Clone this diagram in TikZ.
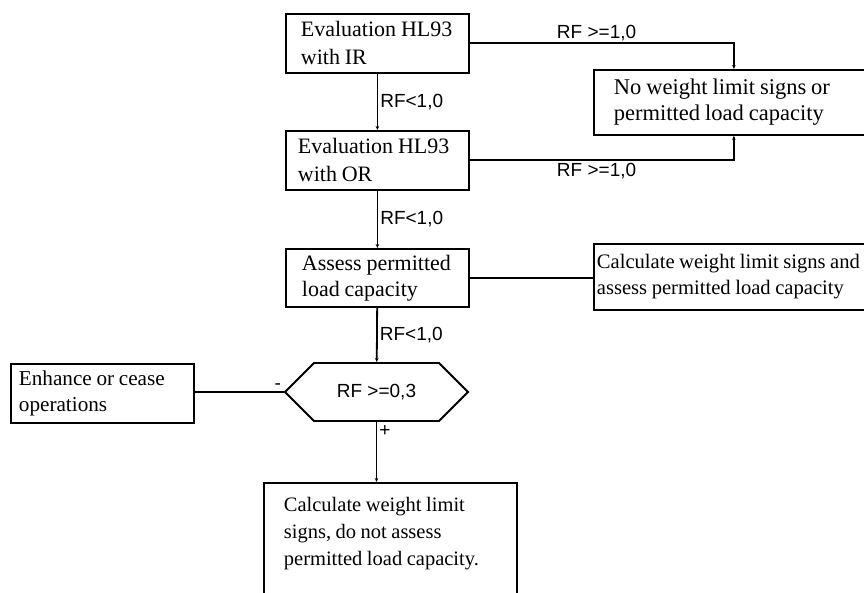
\documentclass[tikz,border=0pt]{standalone}
\usepackage{fontspec}
\setmainfont{Liberation Serif}
\setsansfont{Liberation Sans}
\usetikzlibrary{arrows.meta, shapes.symbols}

\begin{document}
\begin{tikzpicture}[x=1pt, y=-1pt, line width=1.8pt]
\tikzstyle{block} = [rectangle, draw, align=left, anchor=north west,
    inner ysep=2pt, font=\fontsize{22}{28}\selectfont,
    execute at begin node={\hyphenpenalty=10000\spaceskip=0.22em\relax}]
\tikzstyle{check} = [signal, signal to=west and east, draw,
    minimum width=183pt, minimum height=58pt, inner sep=0pt,
    font=\sffamily\fontsize{19}{23}\selectfont]
\tikzstyle{line} = [draw, -{Stealth[length=4pt, width=3.5pt]}]
\tikzstyle{rf} = [font=\sffamily\fontsize{19}{23}\selectfont, inner sep=2pt]

 \useasboundingbox (0,0) rectangle (864,593);
 \clip (0,0) rectangle (864,593);

 \node [block, inner xsep=15pt, text width=153pt, minimum height=59pt] (evalir) at (285,13) {Evaluation~HL93\\with IR};
 \node [block, inner xsep=20pt, text width=240pt, minimum height=65pt,
    font=\fontsize{22.5}{26}\selectfont] (nolimit) at (593,69) {No weight limit signs or\\permitted load capacity};
 \node [block, inner xsep=12pt, text width=159pt, minimum height=59pt] (evalor) at (285,130) {Evaluation~HL93\\with OR};
 \node [block, inner xsep=16pt, text width=151pt, minimum height=58pt,
    font=\fontsize{22}{26}\selectfont] (assess) at (285,248) {Assess~permitted\\load capacity};
 \node [block, inner xsep=3pt, text width=284pt, minimum height=66pt,
    font=\fontsize{20.6}{26}\selectfont] (calcassess) at (593,243) {Calculate~weight~limit~signs~and\\assess permitted load capacity};

 \node [check] (rfcheck) at (376.5,392) {RF >=0,3};
 \node [block, inner xsep=8pt, text width=167pt, minimum height=59pt,
    font=\fontsize{21.2}{26}\selectfont] (cease) at (10,363) {Enhance or cease\\operations};
 \node [block, inner xsep=20pt, text width=213pt, minimum height=132pt,
    font=\fontsize{20.5}{27}\selectfont] (calclimit) at (263,482) {Calculate weight limit\\signs, do not assess\\permitted load capacity.\\\strut};

 \path [line] (evalir) -- node [rf, right] {RF<1,0} (evalor);
 \path [line] (evalir.east) -| node [rf, above, pos=0.24] {RF >=1,0} (nolimit.north);
 \path [line] (evalor.east) -| node [rf, below, pos=0.24] {RF >=1,0} (nolimit.south);
 \path [line] (evalor) -- node [rf, right] {RF<1,0} (assess);
 \path [draw] (assess.east) -- (assess.east -| calcassess.west);
 \path [line] (assess) -- node [rf, right] {RF<1,0} (rfcheck);
 \path [draw] (rfcheck.west) -- node [rf, above left, pos=0] {-} (rfcheck.west -| cease.east);
 \path [line] (rfcheck.south) -- node [rf, right, pos=0.15] {+} (rfcheck.south |- calclimit.north);
\end{tikzpicture}
\end{document}
